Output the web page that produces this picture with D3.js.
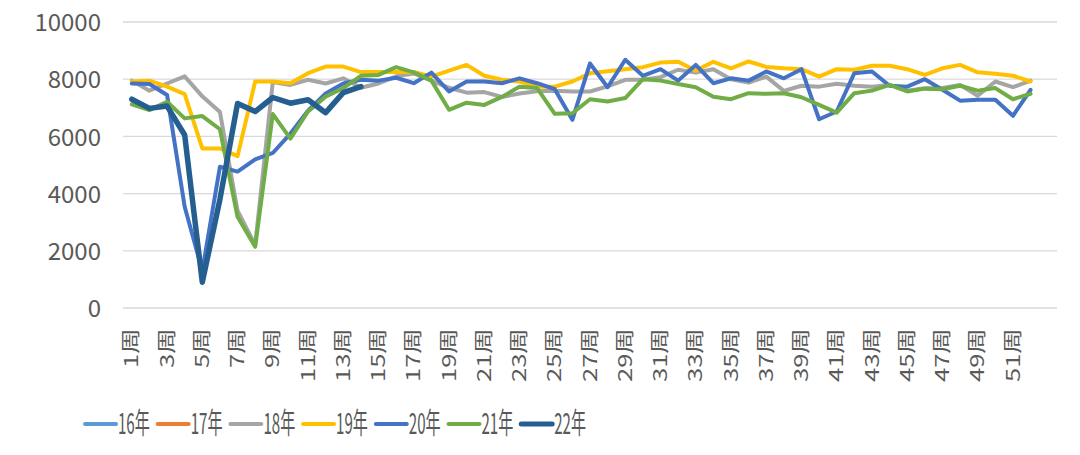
<!DOCTYPE html>
<html>
<head>
<meta charset="utf-8">
<script src="https://cdn.jsdelivr.net/npm/d3@7"></script>
<style>
  body { margin: 0; background: #fff; }
  svg text { font-family: "Noto Sans CJK SC", "Open Sans", sans-serif; fill: #595959; }
</style>
</head>
<body>
<div id="graphique"></div>
<script>
//*** données ******************************************************************************************/
// 53 catégories sur l'axe (la dernière sans étiquette)
const semaines = d3.range(1, 54);
const annees = ["16年", "17年", "18年", "19年", "20年", "21年", "22年"];
const couleurs = ["#5B9BD5", "#ED7D31", "#A5A5A5", "#FFC000", "#4472C4", "#70AD47", "#255E91"];
const graduationsY = [0, 2000, 4000, 6000, 8000, 10000];

// 16年 et 17年 n'ont pas de valeurs visibles
const s16 = [];
const s17 = [];
const s18 = [7950, 7600, 7850, 8100, 7400, 6850, 3400, 2200, 7900, 7800, 7980, 7850, 8030, 7700, 7850, 8100, 8200, 7950, 7700, 7530,
  7550, 7380, 7500, 7580, 7600, 7570, 7570, 7750, 7980, 7980, 8070, 8330, 8230, 8350, 8000, 7880, 8090, 7590, 7770, 7740,
  7840, 7770, 7740, 7800, 7600, 7680, 7690, 7800, 7420, 7920, 7720, 7950];
const s19 = [7920, 7950, 7740, 7480, 5580, 5580, 5310, 7920, 7920, 7860, 8210, 8440, 8440, 8250, 8250, 8250, 8250, 8090, 8300, 8500,
  8120, 7980, 7920, 7740, 7740, 7920, 8210, 8280, 8350, 8420, 8580, 8610, 8300, 8610, 8380, 8620, 8430, 8380, 8350, 8090,
  8350, 8330, 8470, 8470, 8350, 8150, 8380, 8500, 8240, 8190, 8120, 7920];
const s20 = [7850, 7830, 7450, 3540, 1300, 4940, 4770, 5200, 5420, 6100, 6900, 7500, 7850, 7980, 7950, 8050, 7860, 8230, 7570, 7920,
  7920, 7860, 8030, 7860, 7650, 6580, 8550, 7720, 8680, 8120, 8350, 7950, 8500, 7860, 8030, 7950, 8270, 8030, 8350, 6600,
  6870, 8210, 8270, 7770, 7740, 8000, 7630, 7250, 7280, 7280, 6720, 7630];
const s21 = [7120, 6920, 7210, 6630, 6710, 6250, 3190, 2140, 6780, 5920, 6870, 7390, 7690, 8120, 8150, 8420, 8240, 7950, 6930, 7180,
  7100, 7380, 7740, 7690, 6790, 6810, 7300, 7220, 7340, 8000, 7950, 7830, 7720, 7390, 7300, 7510, 7490, 7510, 7370, 7100,
  6830, 7510, 7600, 7800, 7570, 7670, 7650, 7770, 7600, 7690, 7300, 7490];
const s22 = [7300, 6980, 7060, 6050, 900, 3800, 7150, 6870, 7360, 7160, 7280, 6830, 7530, 7740];

const series = [s16, s17, s18, s19, s20, s21, s22];
const epaisseurs = [4, 4, 4, 4, 4, 4, 5.5];

//*** dessin *******************************************************************************************/
const largeur = 1080;
const hauteur = 455;

const svg = d3.select("#graphique")
  .append("svg")
  .attr("width", largeur)
  .attr("height", hauteur);

const x = d3.scaleBand()
  .domain(semaines)
  .range([123, 1057]);

const y = d3.scaleLinear()
  .domain([0, 10000])
  .range([308, 22]);

// lignes de la grille
svg.selectAll("line.grille")
  .data(graduationsY)
  .enter()
  .append("line")
  .attr("class", "grille")
  .attr("x1", x.range()[0])
  .attr("x2", x.range()[1])
  .attr("y1", (d) => y(d))
  .attr("y2", (d) => y(d))
  .style("stroke", "#d9d9d9")
  .style("stroke-width", 1.3);

// axe Y (sans trait, sans séparateur de milliers)
const axeY = svg.append("g")
  .attr("transform", "translate(101,0)")
  .call(d3.axisLeft(y).tickValues(graduationsY).tickFormat(d3.format("d")).tickSize(0).tickPadding(0));
axeY.select(".domain").remove();
axeY.selectAll("text")
  .style("font-size", "24px")
  .attr("dy", "0.36em");

// axe X : étiquettes une semaine sur deux, tournées
const axeX = svg.append("g")
  .attr("transform", "translate(0,328)")
  .call(d3.axisBottom(x)
    .tickValues(semaines.filter((s) => s % 2 == 1 && s < 53))
    .tickFormat((s) => s + "周")
    .tickSize(0));
axeX.select(".domain").remove();
axeX.selectAll("text")
  .style("font-size", "19px")
  .attr("text-anchor", "end")
  .attr("transform", "rotate(-90) scale(1.35,1)")
  .attr("x", 0)
  .attr("y", 0)
  .attr("dx", 0)
  .attr("dy", "0.35em");

// courbes
const ligne = d3.line()
  .x((d, i) => x(semaines[i]) + x.bandwidth() / 2)
  .y((d) => y(d));

svg.selectAll("path.courbe")
  .data(series)
  .enter()
  .append("path")
  .attr("class", "courbe")
  .attr("d", (d) => (d.length ? ligne(d) : null))
  .style("fill", "none")
  .style("stroke", (d, i) => couleurs[i])
  .style("stroke-width", (d, i) => epaisseurs[i])
  .style("stroke-linejoin", "round")
  .style("stroke-linecap", "round");

// légende
const legende = svg.selectAll("g.legende")
  .data(annees)
  .enter()
  .append("g")
  .attr("class", "legende")
  .attr("transform", (d, i) => `translate(${85 + i * 72.7},424)`);

legende.append("line")
  .attr("x1", 0)
  .attr("x2", 31)
  .style("stroke", (d, i) => couleurs[i])
  .style("stroke-width", (d, i) => (i == 6 ? 5 : 4))
  .style("stroke-linecap", "round");

legende.append("text")
  .attr("transform", "translate(33,10) scale(0.52,1)")
  .style("font-size", "29px")
  .text((d) => d);
</script>
</body>
</html>
